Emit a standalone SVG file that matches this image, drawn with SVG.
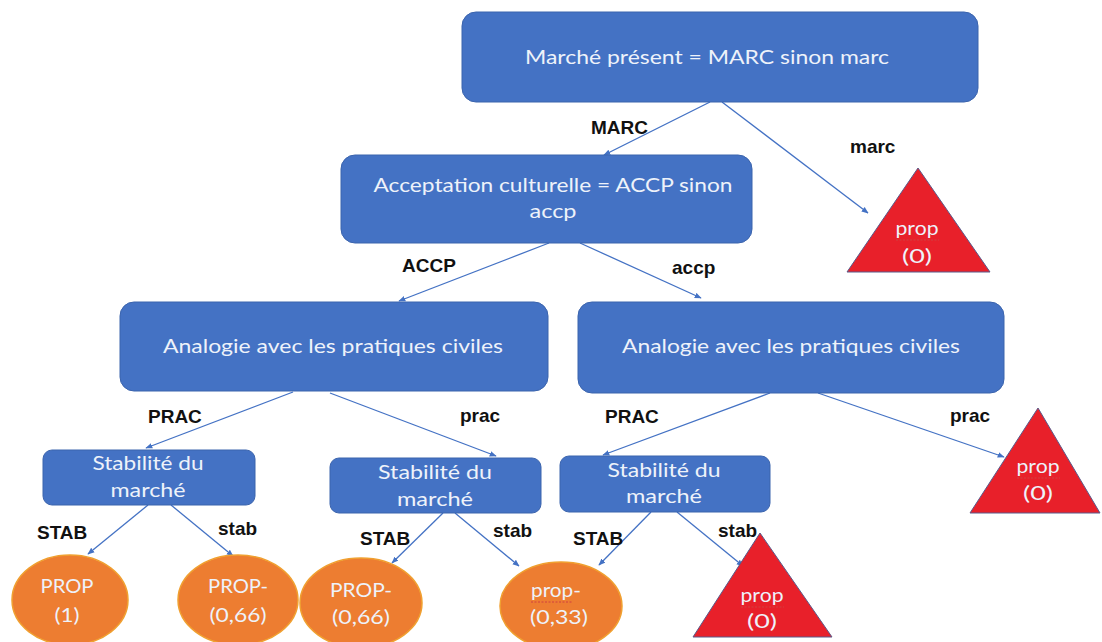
<svg xmlns="http://www.w3.org/2000/svg" width="1102" height="642" viewBox="0 0 1102 642">
<defs>
<marker id="ah" viewBox="0 0 10 10" refX="9" refY="5" markerWidth="7" markerHeight="7" orient="auto" markerUnits="userSpaceOnUse">
<path d="M0,1 L10,5 L0,9 z" fill="#4472c4"/>
</marker>
<style>
.box{fill:#4472c4;stroke:#3b64ad;stroke-width:1}
.ell{fill:#ed7d31;stroke:#f0a030;stroke-width:1.5}
.tri{fill:#e8202a;stroke:#5a5a8a;stroke-width:1}
.nt{font-family:Lato,"Open Sans",sans-serif;font-size:19px;fill:#eef2fa;text-anchor:middle}
.ns{font-size:20px}
.lb{font-family:"Liberation Sans",Arial,sans-serif;font-size:19px;font-weight:bold;fill:#111}
.cn{stroke:#4472c4;stroke-width:1.3;fill:none;marker-end:url(#ah)}
.sq{stroke:#d04040;stroke-width:1;fill:none;stroke-dasharray:2 1.5}
</style>
</defs>
<rect width="1102" height="642" fill="#ffffff"/>

<g id="connectors">
<line class="cn" x1="710" y1="102" x2="604" y2="155"/>
<line class="cn" x1="722" y1="102" x2="868" y2="213"/>
<line class="cn" x1="549" y1="243" x2="399" y2="301"/>
<line class="cn" x1="580" y1="243" x2="701" y2="298"/>
<line class="cn" x1="293" y1="392" x2="146" y2="448"/>
<line class="cn" x1="330" y1="393" x2="496" y2="456"/>
<line class="cn" x1="770" y1="393" x2="603" y2="455"/>
<line class="cn" x1="818" y1="393" x2="1004" y2="457"/>
<line class="cn" x1="148" y1="505" x2="88" y2="554"/>
<line class="cn" x1="171" y1="505" x2="233" y2="556"/>
<line class="cn" x1="443" y1="513" x2="392" y2="563"/>
<line class="cn" x1="455" y1="513" x2="519" y2="566"/>
<line class="cn" x1="651" y1="512" x2="599" y2="565"/>
<line class="cn" x1="677" y1="512" x2="743" y2="566"/>
</g>

<g id="labels">
<text class="lb" x="591" y="134" font-size="20">MARC</text>
<text class="lb" x="850" y="153">marc</text>
<text class="lb" x="402" y="272">ACCP</text>
<text class="lb" x="672" y="274">accp</text>
<text class="lb" x="148" y="423">PRAC</text>
<text class="lb" x="460" y="422">prac</text>
<text class="lb" x="605" y="423">PRAC</text>
<text class="lb" x="950" y="422">prac</text>
<text class="lb" x="37" y="539">STAB</text>
<text class="lb" x="218" y="535">stab</text>
<text class="lb" x="360" y="545">STAB</text>
<text class="lb" x="493" y="537">stab</text>
<text class="lb" x="573" y="545">STAB</text>
<text class="lb" x="718" y="537">stab</text>
</g>

<g id="n-marche">
<rect class="box" x="462" y="12" width="516" height="90" rx="14"/>
<text class="nt" x="707" y="64" textLength="364" lengthAdjust="spacingAndGlyphs">Marché présent = MARC sinon marc</text>
</g>
<g id="n-accp">
<rect class="box" x="341" y="155" width="411" height="88" rx="14"/>
<text class="nt" x="553" y="192" textLength="359" lengthAdjust="spacingAndGlyphs">Acceptation culturelle = ACCP sinon</text>
<text class="nt" x="553" y="218" textLength="47" lengthAdjust="spacingAndGlyphs">accp</text>
</g>
<g id="t-marc">
<polygon class="tri" points="918,168 990,272 847,272"/>
<text class="nt ns" x="917" y="235" textLength="43" lengthAdjust="spacingAndGlyphs">prop</text>
<path class="sq" d="M896,240 h43"/>
<text class="nt ns" x="917" y="263" textLength="30" lengthAdjust="spacingAndGlyphs">(0)</text>
</g>
<g id="n-prac-left">
<rect class="box" x="120" y="302" width="428" height="89" rx="14"/>
<text class="nt" x="333" y="353" textLength="340" lengthAdjust="spacingAndGlyphs">Analogie avec les pratiques civiles</text>
</g>
<g id="n-prac-right">
<rect class="box" x="578" y="302" width="426" height="91" rx="14"/>
<text class="nt" x="791" y="353" textLength="338" lengthAdjust="spacingAndGlyphs">Analogie avec les pratiques civiles</text>
</g>
<g id="n-stab-1">
<rect class="box" x="43" y="450" width="212" height="55" rx="9"/>
<text class="nt ns" x="148" y="470" textLength="111" lengthAdjust="spacingAndGlyphs">Stabilité du</text>
<text class="nt ns" x="148" y="497" textLength="75" lengthAdjust="spacingAndGlyphs">marché</text>
</g>
<g id="n-stab-2">
<rect class="box" x="330" y="458" width="211" height="55" rx="9"/>
<text class="nt ns" x="435" y="479" textLength="114" lengthAdjust="spacingAndGlyphs">Stabilité du</text>
<text class="nt ns" x="435" y="506" textLength="76" lengthAdjust="spacingAndGlyphs">marché</text>
</g>
<g id="n-stab-3">
<rect class="box" x="560" y="456" width="210" height="56" rx="9"/>
<text class="nt ns" x="664" y="477" textLength="113" lengthAdjust="spacingAndGlyphs">Stabilité du</text>
<text class="nt ns" x="664" y="503" textLength="76" lengthAdjust="spacingAndGlyphs">marché</text>
</g>
<g id="t-prac">
<polygon class="tri" points="1038,408 1100,513 970,513"/>
<text class="nt ns" x="1038" y="473" textLength="43" lengthAdjust="spacingAndGlyphs">prop</text>
<path class="sq" d="M1017,478 h43"/>
<text class="nt ns" x="1038" y="500" textLength="30" lengthAdjust="spacingAndGlyphs">(0)</text>
</g>
<g id="e-prop-1">
<ellipse class="ell" cx="70" cy="600" rx="58" ry="45"/>
<text class="nt ns" x="67" y="593" textLength="53" lengthAdjust="spacingAndGlyphs">PROP</text>
<text class="nt ns" x="67" y="622" textLength="25" lengthAdjust="spacingAndGlyphs">(1)</text>
</g>
<g id="e-prop-066a">
<ellipse class="ell" cx="238" cy="600" rx="60" ry="45"/>
<text class="nt ns" x="238" y="593" textLength="60" lengthAdjust="spacingAndGlyphs">PROP-</text>
<text class="nt ns" x="238" y="622" textLength="57" lengthAdjust="spacingAndGlyphs">(0,66)</text>
</g>
<g id="e-prop-066b">
<ellipse class="ell" cx="361" cy="603" rx="61" ry="45"/>
<text class="nt ns" x="361" y="597" textLength="62" lengthAdjust="spacingAndGlyphs">PROP-</text>
<text class="nt ns" x="361" y="624" textLength="58" lengthAdjust="spacingAndGlyphs">(0,66)</text>
</g>
<g id="e-prop-033">
<ellipse class="ell" cx="561" cy="606" rx="61" ry="44"/>
<text class="nt ns" x="556" y="597" textLength="50" lengthAdjust="spacingAndGlyphs">prop-</text>
<path class="sq" d="M531,602 h42"/>
<text class="nt ns" x="559" y="624" textLength="58" lengthAdjust="spacingAndGlyphs">(0,33)</text>
</g>
<g id="t-stab">
<polygon class="tri" points="760,533 832,637 693,637"/>
<text class="nt ns" x="762" y="602" textLength="43" lengthAdjust="spacingAndGlyphs">prop</text>
<path class="sq" d="M741,607 h43"/>
<text class="nt ns" x="762" y="628" textLength="30" lengthAdjust="spacingAndGlyphs">(0)</text>
</g>
</svg>
